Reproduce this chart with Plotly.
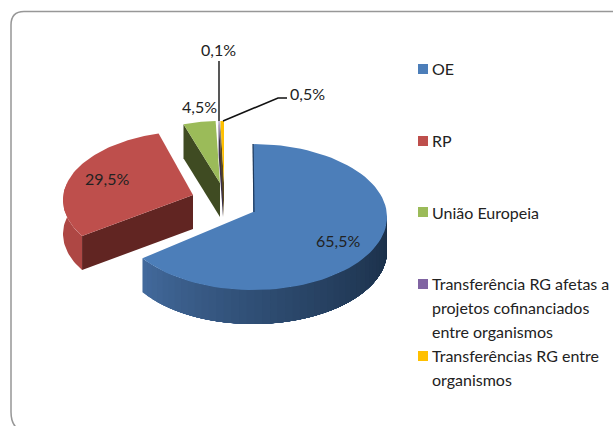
import numpy as np
import plotly.graph_objects as go

categories = ["OE", "RP", "União Europeia",
              "Transferência RG afetas a projetos cofinanciados entre organismos",
              "Transferências RG entre organismos"]
values = [65.5, 29.5, 4.5, 0.1, 0.5]
legend_lines = [["OE"], ["RP"], ["União Europeia"],
                ["Transferência RG afetas a", "projetos cofinanciados", "entre organismos"],
                ["Transferências RG entre", "organismos"]]
colors = ["#4C7EB9", "#BE4F4C", "#9BBB59", "#8064A2", "#FFC000"]
dark_faces = ["#1F3A5C", "#612522", "#3F4B22", "#3A2E4A", "#5A4A20"]

# layout of the exploded pie: tip x, tip y, rx, ry, y offset of the ellipse centre, perspective twist (deg)
DEPTH = 34
slice_geo = [(253, 212, 134, 73, 5, 0), (193, 195, 130, 69, 5, 3), (220, 183, 116, 65, 3, 0),
             (223, 183, 116, 65, 3, 0), (224, 183, 116, 65, 3, 0)]
label_pos = [(338, 240), (107, 178), (199, 106), (218, 49), (307, 93)]
legend_y = [68, 140, 212, 283, 355]
swatch_y = [69, 141, 212, 284, 356]
FONT = "Lato"
TEXT = "#222222"

total = sum(values)
edges = np.cumsum([0] + values) / total * 2 * np.pi


def rim(i, a):
    tx, ty, rx, ry, off, tw = slice_geo[i]
    a = a + np.radians(tw)
    return tx + rx * np.sin(a), ty + off - ry * np.cos(a)


def poly(xs, ys, fill, line=None, width=0.0):
    return go.Scatter(x=list(xs), y=list(ys), mode="lines", fill="toself", fillcolor=fill,
                      line=dict(color=line or fill, width=width), hoverinfo="skip", showlegend=False)


def mix(c1, c2, t):
    a = [int(c1[k:k + 2], 16) for k in (1, 3, 5)]
    b = [int(c2[k:k + 2], 16) for k in (1, 3, 5)]
    return "rgb(%d,%d,%d)" % tuple(round(p + (q - p) * t) for p, q in zip(a, b))


fig = go.Figure()

# draw back slices first
for i in [1, 2, 3, 4, 0]:
    a0, a1 = edges[i], edges[i + 1]
    tx, ty = slice_geo[i][:2]
    arc = np.linspace(a0, a1, 80)
    ax, ay = rim(i, arc)
    if i == 0:
        # curved wall facing the viewer, shaded from left to right; painted from the
        # left end so that each band overlaps the next one and leaves no seam
        n = 44
        wall = np.linspace(np.pi / 2, a1, n + 1)
        for k in range(n - 1, -1, -1):
            seg = np.linspace(np.pi / 2, wall[k + 1], 60)
            sx, sy = rim(i, seg)
            t = k / (n - 1)
            col = mix("#1B3049", "#42699B", t ** 1.3)
            fig.add_trace(poly(np.r_[sx, sx[::-1]], np.r_[sy, sy[::-1] + DEPTH], col))
        fig.add_trace(poly(ax.tolist() + [tx], ay.tolist() + [ty], colors[i]))
        fig.add_trace(go.Scatter(x=[ax[0], tx + 1], y=[ay[0], ty], mode="lines", hoverinfo="skip",
                                 showlegend=False, line=dict(color=dark_faces[0], width=1.2)))
    else:
        if i == 1:
            wall = np.linspace(a0, np.radians(282), 30)
            sx, sy = rim(i, wall)
            fig.add_trace(poly(np.r_[sx, sx[::-1]], np.r_[sy, sy[::-1] + DEPTH], "#AE4744"))
        cx, cy = rim(i, a0)
        fig.add_trace(poly([tx, cx, cx, tx], [ty, cy, cy + DEPTH, ty + DEPTH], dark_faces[i]))
        fig.add_trace(poly(ax.tolist() + [tx], ay.tolist() + [ty], colors[i]))

# leader lines
fig.add_trace(go.Scatter(x=[219, 219], y=[61, 121], mode="lines",
                         hoverinfo="skip", showlegend=False, line=dict(color="#111111", width=1.4)))
fig.add_trace(go.Scatter(x=[223, 278, 287], y=[121, 98, 98], mode="lines",
                         hoverinfo="skip", showlegend=False, line=dict(color="#111111", width=1.6)))

# legend swatches
fig.add_trace(go.Scatter(x=[423] * 5, y=swatch_y, mode="markers", hoverinfo="skip", showlegend=False,
                         marker=dict(symbol="square", size=10, color=colors, line=dict(width=0))))

annotations = []
for v, (x, y) in zip(values, label_pos):
    annotations.append(dict(x=x, y=y, text=f"{v:.1f}%".replace(".", ","), showarrow=False,
                            font=dict(family=FONT, size=16, color=TEXT), xanchor="center", yanchor="middle"))
for lines, y0 in zip(legend_lines, legend_y):
    for n, t in enumerate(lines):
        annotations.append(dict(x=430, y=y0 + n * 24, text=t, showarrow=False,
                                font=dict(family=FONT, size=16, color=TEXT), xanchor="left", yanchor="middle"))

frame = "M 24 11.5 L 620 11.5 L 620 432 L 30 432 Q 11 432 11 412 L 11 25 Q 11 11.5 24 11.5 Z"
fig.update_layout(
    width=613, height=426, margin=dict(l=0, r=0, t=0, b=0),
    paper_bgcolor="white", plot_bgcolor="white", showlegend=False,
    xaxis=dict(range=[0, 613], visible=False, fixedrange=True),
    yaxis=dict(range=[426, 0], visible=False, fixedrange=True),
    annotations=annotations,
    shapes=[dict(type="path", path=frame, line=dict(color="#979797", width=1.5), layer="below")],
)
fig.write_html("out.html", config={"displayModeBar": False},
               post_script="document.body.style.margin='0';document.documentElement.style.overflow='hidden';")
